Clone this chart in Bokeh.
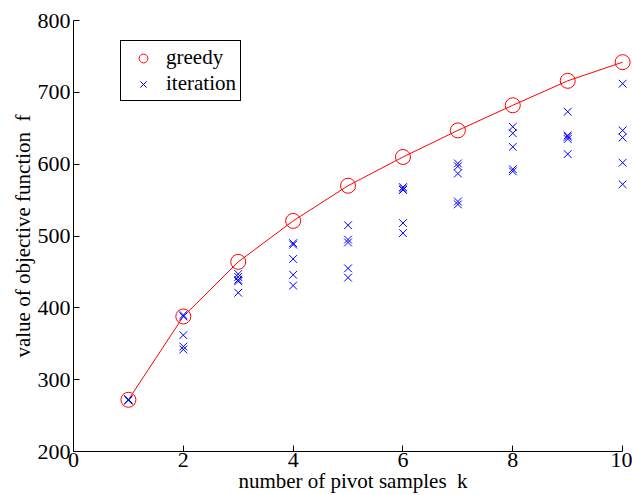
from bokeh.plotting import figure
from bokeh.models import Range1d, Legend, LegendItem, FixedTicker
from bokeh.embed import file_html
from bokeh.resources import INLINE

k_values = [1, 2, 3, 4, 5, 6, 7, 8, 9, 10]
greedy = [272, 388, 464, 521, 570, 610, 647, 682, 716, 742]

iter_k = [1, 1, 1, 1, 1,
          2, 2, 2, 2, 2,
          3, 3, 3, 3, 3,
          4, 4, 4, 4, 4,
          5, 5, 5, 5, 5,
          6, 6, 6, 6, 6,
          7, 7, 7, 7, 7,
          8, 8, 8, 8, 8,
          9, 9, 9, 9, 9,
          10, 10, 10, 10, 10]
iter_f = [272, 272, 272, 272, 272,
          390, 388, 362, 346, 342,
          447, 443, 439, 437, 421,
          490, 488, 468, 446, 431,
          515, 495, 491, 455, 442,
          568, 566, 564, 518, 504,
          601, 597, 587, 548, 544,
          652, 643, 624, 593, 590,
          673, 640, 638, 635, 614,
          712, 647, 637, 602, 572]

x_ticks = [0, 2, 4, 6, 8, 10]
y_ticks = [200, 300, 400, 500, 600, 700, 800]

FONT = "Liberation Serif"

p = figure(width=632, height=495, output_backend="svg", toolbar_location=None,
           x_range=Range1d(0, 10.18), y_range=Range1d(200, 800),
           min_border_left=73, min_border_right=0, min_border_top=20,
           min_border_bottom=20)
p.outline_line_color = None
p.grid.visible = False
p.background_fill_color = "white"

for ax in (p.xaxis[0], p.yaxis[0]):
    ax.major_label_text_font = FONT
    ax.major_label_text_font_size = "22px"
    ax.axis_label_text_font = FONT
    ax.axis_label_text_font_size = "21px"
    ax.axis_label_text_font_style = "normal"
    ax.major_tick_in = 6
    ax.major_tick_out = 0
    ax.minor_tick_in = 0
    ax.minor_tick_out = 0
    ax.axis_line_color = "black"
    ax.major_tick_line_color = "black"
    ax.major_label_text_color = "black"
    ax.axis_label_text_color = "black"

p.xaxis[0].ticker = FixedTicker(ticks=x_ticks)
p.yaxis[0].ticker = FixedTicker(ticks=y_ticks)
p.xaxis[0].bounds = (0, 10)
p.xaxis[0].axis_label = "number of pivot samples\u00a0\u00a0k"
p.yaxis[0].axis_label = "value of objective function\u00a0\u00a0f"
p.xaxis[0].major_label_standoff = 1
p.xaxis[0].axis_label_standoff = -1
p.yaxis[0].major_label_standoff = 3
p.yaxis[0].axis_label_standoff = 0

line_r = p.line(k_values, greedy, line_color="red", line_width=1)
circ_r = p.scatter(k_values, greedy, marker="circle", size=15, fill_color=None,
                   line_color="red", line_width=1)
x_r = p.scatter(iter_k, iter_f, marker="x", size=11, line_color="blue", line_width=1)

legend = Legend(items=[LegendItem(label="greedy", renderers=[circ_r]),
                       LegendItem(label="iteration", renderers=[x_r])],
                location=(47, 350))
legend.label_text_font = FONT
legend.label_text_font_size = "21px"
legend.label_text_color = "black"
legend.border_line_color = "black"
legend.border_line_alpha = 1
legend.border_line_width = 1
legend.background_fill_color = "white"
legend.background_fill_alpha = 1
legend.glyph_height = 22
legend.glyph_width = 36
legend.label_height = 22
legend.label_standoff = 5
legend.spacing = 1
legend.padding = 4
legend.margin = 0
p.add_layout(legend)

open("out.html", "w").write(file_html(p, INLINE))
